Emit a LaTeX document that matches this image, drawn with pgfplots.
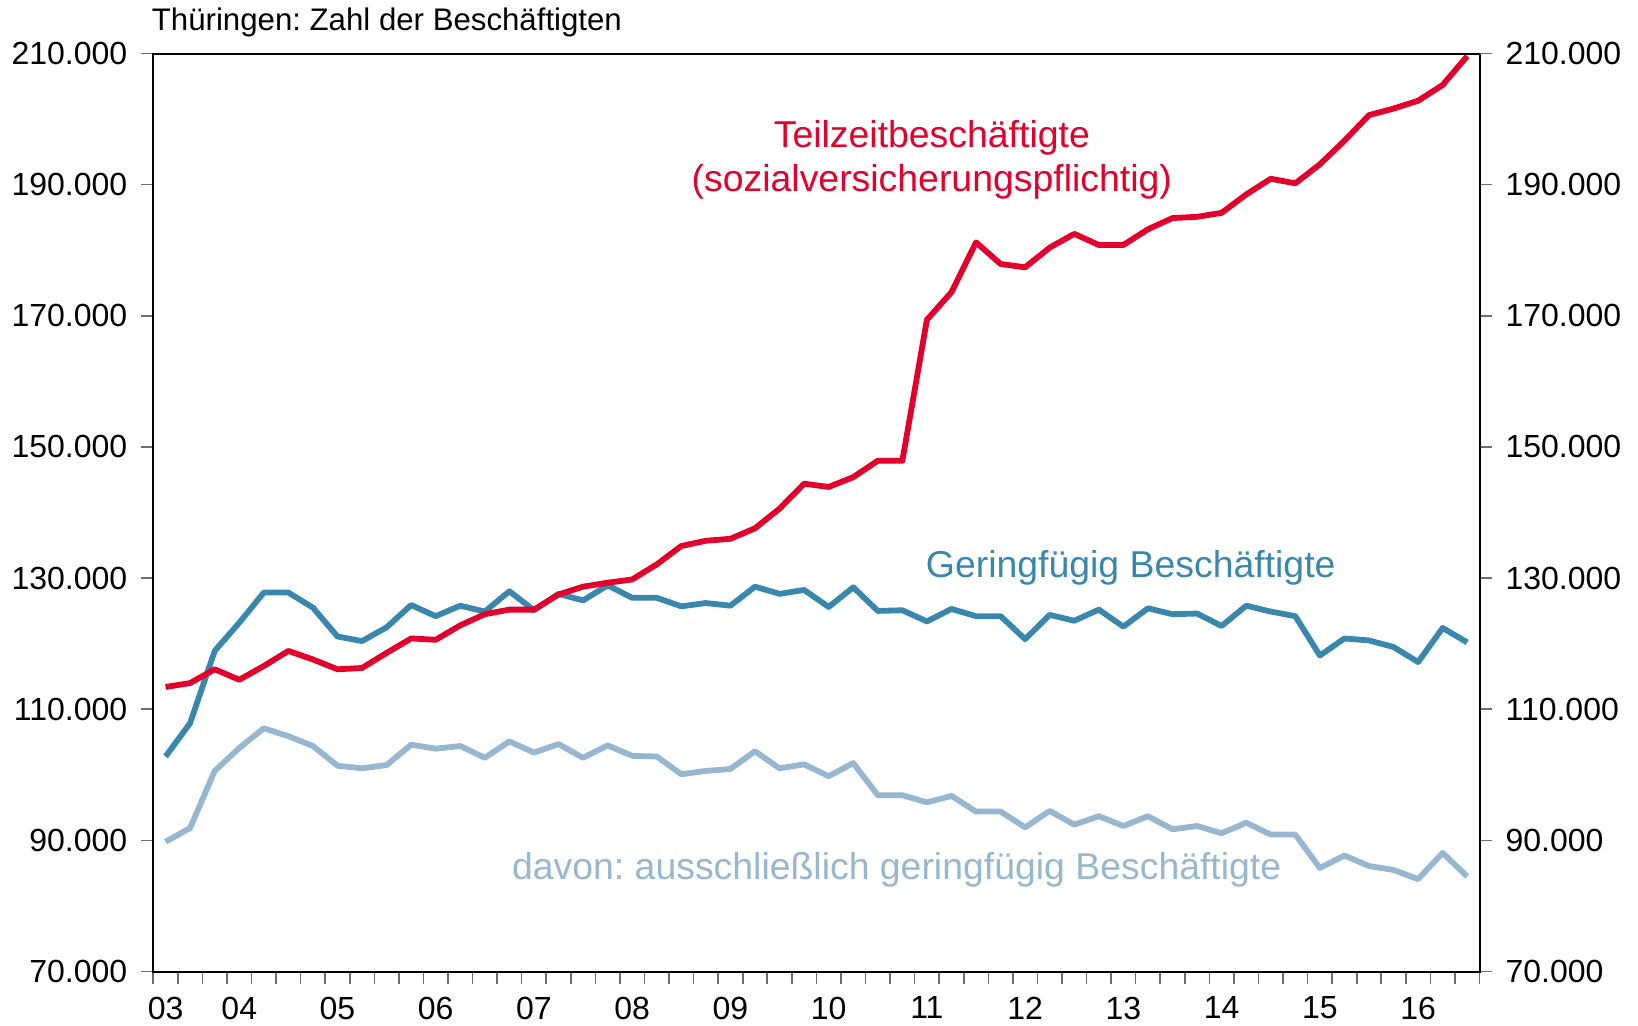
\documentclass[border=0pt]{standalone}
\usepackage{pgfplots}
\usepackage{pgfplotstable}
\pgfplotsset{compat=1.18}
\usepackage{fontspec}
\setmainfont{Liberation Sans}
\frenchspacing
\definecolor{cred}{RGB}{227,0,43}
\definecolor{cblue}{RGB}{58,135,173}
\definecolor{clight}{RGB}{150,183,207}
\definecolor{ctick}{RGB}{110,110,110}

\pgfplotstableread{
i red blue light
0 113400 102800 89800
1 114000 107900 91900
2 116100 118900 100600
3 114500 123200 104100
4 116600 127800 107100
5 118900 127800 105900
6 117600 125500 104400
7 116100 121100 101400
8 116300 120400 101000
9 118600 122500 101500
10 120800 125900 104600
11 120600 124200 104000
12 122800 125800 104400
13 124500 124900 102600
14 125200 128000 105100
15 125200 125100 103400
16 127500 127600 104700
17 128700 126600 102600
18 129300 128900 104500
19 129800 127000 102900
20 132100 127000 102800
21 134900 125700 100100
22 135700 126200 100600
23 136000 125800 100900
24 137600 128700 103600
25 140600 127600 101000
26 144400 128200 101600
27 143900 125600 99800
28 145400 128600 101800
29 147900 125000 96900
30 147900 125100 96900
31 169400 123400 95800
32 173600 125300 96800
33 181200 124200 94400
34 177900 124200 94400
35 177400 120700 92000
36 180400 124400 94500
37 182500 123500 92400
38 180800 125200 93700
39 180800 122600 92200
40 183200 125400 93700
41 184900 124500 91700
42 185100 124600 92200
43 185700 122700 91100
44 188500 125800 92700
45 190900 124900 90900
46 190200 124200 90900
47 193100 118200 85800
48 196700 120800 87700
49 200600 120500 86100
50 201600 119500 85500
51 202800 117200 84100
52 205200 122400 88100
53 209600 120200 84500
}\data

\begin{document}
\begin{tikzpicture}
\pgfplotsset{
  myframe/.style={
    at={(0,0)}, anchor=south west,
    scale only axis, width=663.1pt, height=459.05pt,
    xmin=-0.5, xmax=53.5, ymin=70000, ymax=210000,
    ytick={70000,90000,...,210000},
    scaled y ticks=false,
    yticklabel style={/pgf/number format/fixed, /pgf/number format/1000 sep={.}, /pgf/number format/assume math mode=true},
    tick align=outside,
    major tick length=6pt,
    tick style={ctick, line width=0.8pt},
    tick label style={font=\fontsize{16}{19}\selectfont, text=black},
    axis line style={black, line width=1pt},
  }
}
\begin{axis}[myframe,
  ytick pos=left,
  yticklabel style={xshift=-3.5pt},
  xtick={0,3,7,11,15,19,23,27,31,35,39,43,47,51},
  xticklabels={03,04,05,06,07,08,09,10,11,12,13,14,15,16},
  xtick pos=bottom,
  major x tick style={draw=none},
  minor xtick={-0.5,0.5,...,53.5},
  minor tick length=6pt,
  minor x tick style={ctick, line width=0.8pt},
  xticklabel style={yshift=-3pt},
  clip=false,
]
\addplot[clight, line width=2.9pt, line join=round] table[x=i, y=light] {\data};
\addplot[cblue, line width=2.9pt, line join=round] table[x=i, y=blue] {\data};
\addplot[cred, line width=2.9pt, line join=round] table[x=i, y=red] {\data};

\node[anchor=base, text=cred, font=\fontsize{18.7}{22}\selectfont] at (axis cs:31.2,195700) {Teilzeitbeschäftigte};
\node[anchor=base, text=cred, font=\fontsize{18.7}{22}\selectfont] at (axis cs:31.2,188900) {(sozialversicherungspflichtig)};
\node[anchor=base, text=cblue, font=\fontsize{18.7}{22}\selectfont] at (axis cs:39.3,130100) {Geringfügig Beschäftigte};
\node[anchor=base, text=clight, font=\fontsize{18.7}{22}\selectfont] at (axis cs:29.77,84050) {davon: ausschließlich geringfügig Beschäftigte};
\node[anchor=base west, inner sep=0pt, font=\fontsize{15.6}{18}\selectfont] at ([xshift=-0.9pt, yshift=11.6pt]rel axis cs:0,1) {Thüringen: Zahl der Beschäftigten};
\end{axis}
\begin{axis}[myframe,
  hide x axis,
  axis y line*=right,
  yticklabel style={xshift=3.5pt},
]
\end{axis}
\pgfresetboundingbox
\useasboundingbox (-76.65pt,-26.7pt) rectangle (742.35pt,485.8pt);
\end{tikzpicture}
\end{document}
